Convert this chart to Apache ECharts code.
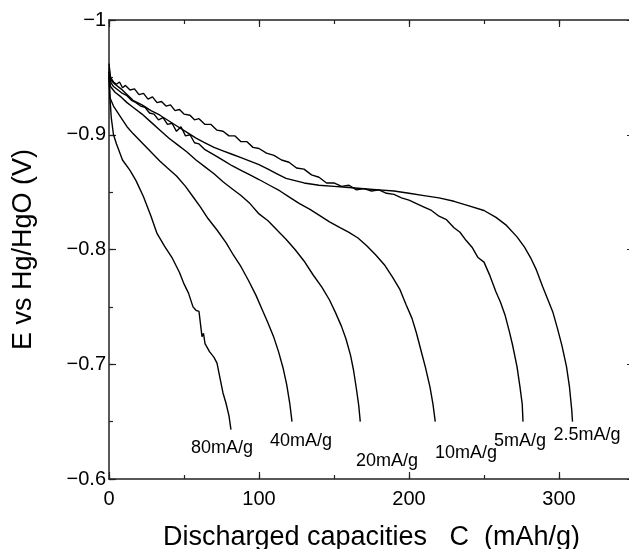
<!DOCTYPE html>
<html>
<head>
<meta charset="utf-8">
<script src="https://cdn.jsdelivr.net/npm/echarts@6/dist/echarts.min.js"></script>
<style>
  html, body { margin: 0; padding: 0; background: #fff; }
  #chart { width: 629px; height: 549px; }
</style>
</head>
<body>
<div id="chart"></div>
<script>
// 放电曲线数据 [容量 mAh/g, 电位 V]
var curve2_5 = [[0,-0.958],[1,-0.948],[4,-0.944],[8,-0.940],[12,-0.935],[16,-0.930],[22,-0.926],[28,-0.921],[34,-0.917],[40,-0.912],[46,-0.907],[52,-0.902],[58,-0.897],[64,-0.893],[70,-0.889],[76,-0.886],[82,-0.883],[88,-0.880],[94,-0.877],[100,-0.874],[106,-0.870],[112,-0.866],[118,-0.862],[124,-0.860],[130,-0.858],[140,-0.856],[150,-0.855],[160,-0.854],[170,-0.853],[180,-0.852],[190,-0.851],[200,-0.849],[210,-0.847],[220,-0.845],[230,-0.842],[240,-0.838],[250,-0.834],[258,-0.828],[265,-0.821],[272,-0.811],[277,-0.802],[281,-0.793],[285,-0.782],[289,-0.768],[293,-0.755],[296,-0.745],[299,-0.731],[302,-0.716],[305,-0.698],[307,-0.680],[308.5,-0.660],[309,-0.650]]

var curve5 = [[0,-0.962],[1,-0.950],[3,-0.946],[5,-0.944],[7,-0.946],[9,-0.941],[11,-0.943],[14,-0.939],[17,-0.940],[20,-0.935],[23,-0.936],[26,-0.931],[29,-0.933],[32,-0.928],[35,-0.929],[38,-0.925],[41,-0.926],[44,-0.921],[47,-0.922],[50,-0.918],[54,-0.917],[57,-0.913],[60,-0.914],[64,-0.909],[68,-0.909],[72,-0.904],[76,-0.903],[80,-0.899],[84,-0.899],[88,-0.894],[92,-0.894],[96,-0.889],[100,-0.888],[105,-0.884],[110,-0.882],[115,-0.878],[120,-0.876],[125,-0.871],[130,-0.870],[135,-0.865],[140,-0.863],[145,-0.858],[150,-0.858],[155,-0.855],[160,-0.856],[165,-0.852],[170,-0.853],[175,-0.851],[180,-0.852],[185,-0.849],[190,-0.848],[195,-0.845],[200,-0.843],[205,-0.840],[210,-0.837],[215,-0.834],[220,-0.829],[225,-0.826],[230,-0.819],[234,-0.815],[238,-0.808],[242,-0.802],[246,-0.793],[250,-0.789],[254,-0.777],[258,-0.763],[261,-0.754],[264,-0.743],[267,-0.728],[269,-0.717],[272,-0.698],[274,-0.680],[275.5,-0.665],[276,-0.650]]

var curve10 = [[0,-0.955],[1,-0.946],[3,-0.942],[6,-0.939],[9,-0.936],[12,-0.934],[15,-0.930],[18,-0.928],[21,-0.925],[24,-0.924],[27,-0.919],[30,-0.918],[33,-0.913],[36,-0.915],[39,-0.909],[42,-0.910],[45,-0.903],[48,-0.907],[51,-0.899],[54,-0.900],[57,-0.893],[60,-0.892],[64,-0.887],[68,-0.884],[72,-0.881],[77,-0.877],[82,-0.873],[88,-0.869],[94,-0.865],[100,-0.861],[107,-0.856],[114,-0.851],[121,-0.845],[127,-0.840],[134,-0.835],[140,-0.830],[147,-0.824],[154,-0.819],[160,-0.815],[166,-0.810],[172,-0.803],[178,-0.795],[184,-0.786],[189,-0.776],[194,-0.765],[198,-0.752],[202,-0.740],[205,-0.727],[208,-0.712],[211,-0.697],[214,-0.680],[216,-0.665],[217.5,-0.650]]

var curve20 = [[0,-0.952],[1,-0.942],[4,-0.937],[8,-0.933],[12,-0.928],[16,-0.924],[22,-0.918],[28,-0.911],[34,-0.904],[40,-0.897],[46,-0.891],[52,-0.885],[58,-0.878],[64,-0.872],[70,-0.866],[76,-0.859],[82,-0.853],[88,-0.847],[94,-0.840],[100,-0.831],[106,-0.825],[112,-0.817],[118,-0.809],[124,-0.800],[130,-0.790],[136,-0.778],[142,-0.767],[147,-0.756],[151,-0.745],[155,-0.733],[158,-0.722],[161,-0.708],[163,-0.695],[165,-0.678],[166.5,-0.664],[167.5,-0.650]]

var curve40 = [[0,-0.950],[0.7,-0.932],[3,-0.925],[8,-0.915],[12,-0.907],[16,-0.901],[22,-0.893],[28,-0.885],[34,-0.877],[39,-0.871],[45,-0.864],[51,-0.855],[56,-0.846],[61,-0.837],[66,-0.827],[72,-0.817],[78,-0.806],[83,-0.795],[88,-0.785],[93,-0.773],[98,-0.760],[102,-0.748],[106,-0.736],[110,-0.723],[113,-0.711],[116,-0.697],[118.5,-0.682],[120.5,-0.666],[122,-0.650]]

var curve80 = [[0,-0.955],[0.5,-0.935],[1.5,-0.915],[3,-0.900],[5,-0.892],[9,-0.878],[14,-0.869],[18,-0.860],[23,-0.846],[28,-0.829],[32,-0.814],[37,-0.803],[42,-0.793],[47,-0.780],[50,-0.770],[53,-0.762],[56,-0.750],[58,-0.747],[60,-0.746],[61,-0.735],[62,-0.724],[63,-0.727],[64,-0.718],[67,-0.711],[70,-0.706],[72,-0.701],[74,-0.688],[76,-0.675],[78,-0.666],[80,-0.655],[81.3,-0.643]]

// 曲线旁的电流密度标注
var labelText = ['80mA/g', '40mA/g', '20mA/g', '10mA/g', '5mA/g', '2.5mA/g']
var labelX = [75.3, 128, 185.3, 238, 274, 318.7]
var labelY = [-0.627, -0.633, -0.616, -0.623, -0.633, -0.638]

var xTicks = [0, 100, 200, 300]

var curves = [curve2_5, curve5, curve10, curve20, curve40, curve80]

var lineSeries = curves.map(function (c) {
  return {
    type: 'line',
    data: c,
    showSymbol: false,
    symbol: 'none',
    lineStyle: { color: '#000', width: 1.4 },
    silent: true
  }
})

var labelData = []
for (let i = 0; i < labelText.length; i++) {
  labelData.push([labelX[i], labelY[i], labelText[i]])
}

var lineStyleAxis = { color: '#222', width: 1.5 }
var tickStyle = { color: '#222', width: 1.2 }

// 框线和刻度：主刻度长、次刻度短，都朝内
function frameX (pos, step, len, withLine) {
  return {
    type: 'value',
    min: 0,
    max: 350,
    interval: step,
    position: pos,
    axisLine: { show: withLine, onZero: false, lineStyle: lineStyleAxis },
    axisTick: { show: true, inside: true, length: len, lineStyle: tickStyle },
    splitLine: { show: false },
    axisLabel: { show: false }
  }
}
function frameY (pos, step, len, withLine) {
  return {
    type: 'value',
    min: -1,
    max: -0.6,
    interval: step,
    inverse: true,
    position: pos,
    axisLine: { show: withLine, onZero: false, lineStyle: lineStyleAxis },
    axisTick: { show: true, inside: true, length: len, lineStyle: tickStyle },
    splitLine: { show: false },
    axisLabel: { show: false }
  }
}

var xMain = frameX('bottom', 100, 7, true)
xMain.name = 'Discharged capacities   C  (mAh/g)'
xMain.nameLocation = 'middle'
xMain.nameGap = 45
xMain.nameTextStyle = { fontSize: 27, color: '#000' }
xMain.axisLabel = {
  show: true,
  fontSize: 20,
  color: '#000',
  margin: 10,
  formatter: function (v) { return xTicks.indexOf(v) >= 0 ? String(v) : '' }
}

var yMain = frameY('left', 0.1, 7, true)
yMain.name = 'E vs Hg/HgO (V)'
yMain.nameLocation = 'middle'
yMain.nameGap = 72
yMain.nameTextStyle = { fontSize: 27, color: '#000' }
yMain.axisLabel = {
  show: true,
  fontSize: 20,
  color: '#000',
  margin: 3,
  formatter: function (v) {
    if (Math.abs(v + 1) < 1e-6) return '\u22121'
    return '\u2212' + Math.abs(v).toFixed(1)
  }
}

var chart = echarts.init(document.getElementById('chart'))
chart.setOption({
  animation: false,
  backgroundColor: '#fff',
  textStyle: { fontFamily: 'Liberation Sans, Arial, sans-serif' },
  grid: { left: 109, top: 20, width: 525, height: 459, outerBoundsMode: 'none', containLabel: false },
  xAxis: [
    xMain,
    frameX('top', 100, 7, true),
    frameX('bottom', 50, 4, false),
    frameX('top', 50, 4, false)
  ],
  yAxis: [
    yMain,
    frameY('right', 0.1, 7, true),
    frameY('left', 0.05, 4, false),
    frameY('right', 0.05, 4, false)
  ],
  series: lineSeries.concat([
    {
      type: 'scatter',
      data: labelData,
      symbolSize: 0,
      silent: true,
      itemStyle: { opacity: 1 },
      label: {
        show: true,
        position: 'inside',
        fontSize: 18,
        color: '#000',
        opacity: 1,
        formatter: function (p) { return p.data[2] }
      }
    }
  ])
})
</script>
</body>
</html>
